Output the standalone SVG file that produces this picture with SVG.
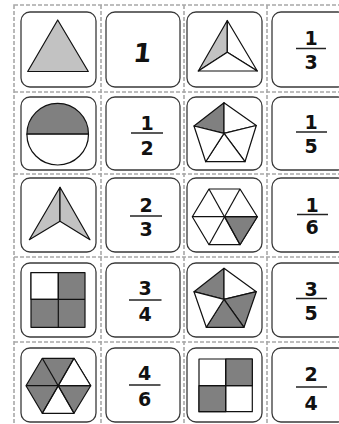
<svg xmlns="http://www.w3.org/2000/svg" width="339" height="424" viewBox="0 0 339 424">
<style>
.cut{fill:none;stroke:#a8a8a8;stroke-width:1.6;stroke-dasharray:4 2}
.card{fill:#fff;stroke:#3a3a3a;stroke-width:1.3}
.sh{stroke:#111;stroke-width:1.2;stroke-linejoin:round}
.lt{fill:#c2c2c2}
.dk{fill:#808080}
.wh{fill:#fff}
.num{font-family:"DejaVu Sans","Liberation Sans",sans-serif;font-weight:bold;font-size:19px;text-anchor:middle;fill:#111}
.big{font-size:26px}
.bar{stroke:#222;stroke-width:1.5}
</style>
<rect width="339" height="424" fill="#fff"/>
<g id="cutlines">
<rect class="cut" x="14" y="5" width="340" height="430"/>
<line class="cut" x1="101" y1="5" x2="101" y2="424"/>
<line class="cut" x1="184" y1="5" x2="184" y2="424"/>
<line class="cut" x1="267" y1="5" x2="267" y2="424"/>
<line class="cut" x1="14" y1="92" x2="339" y2="92"/>
<line class="cut" x1="14" y1="174" x2="339" y2="174"/>
<line class="cut" x1="14" y1="257" x2="339" y2="257"/>
<line class="cut" x1="14" y1="342" x2="339" y2="342"/>
</g>
<g id="r1c1">
<rect class="card" x="21" y="12" width="75" height="75" rx="9"/>
<polygon class="sh lt" points="57.7,20 27.7,71.5 88.3,71.5"/>
</g>
<g id="r1c2">
<rect class="card" x="106" y="12" width="74" height="75" rx="9"/>
<text class="num big" x="142" y="62" transform="skewX(-6) translate(6,0)">1</text>
</g>
<g id="r1c3">
<rect class="card" x="187" y="12" width="75" height="75" rx="9"/>
<polygon class="sh lt" points="227.3,20.5 227.3,52.3 198.3,71"/>
<polygon class="sh wh" points="227.3,20.5 257.3,71 227.3,52.3"/>
<polygon class="sh wh" points="227.3,52.3 257.3,71 198.3,71"/>
</g>
<g id="r1c4">
<rect class="card" x="272" y="12" width="75" height="75" rx="9"/>
<text class="num" x="311" y="45">1</text>
<line class="bar" x1="296" y1="48.5" x2="326" y2="48.5"/>
<text class="num" x="311" y="69">3</text>
</g>
<g id="r2c1">
<rect class="card" x="21" y="97" width="75" height="73" rx="9"/>
<path class="sh dk" d="M26.9,134.2 A30.8,30.8 0 0 1 88.5,134.2 Z"/>
<path class="sh wh" d="M26.9,134.2 A30.8,30.8 0 0 0 88.5,134.2 Z"/>
</g>
<g id="r2c2">
<rect class="card" x="106" y="97" width="74" height="73" rx="9"/>
<text class="num" x="147" y="130">1</text>
<line class="bar" x1="131" y1="133" x2="163" y2="133"/>
<text class="num" x="147" y="155">2</text>
</g>
<g id="r2c3">
<rect class="card" x="187" y="97" width="75" height="73" rx="9"/>
<polygon class="sh dk" points="224,102.7 194,126 224,133.3"/>
<polygon class="sh wh" points="224,102.7 256.3,125.5 224,133.3"/>
<polygon class="sh wh" points="256.3,125.5 245,161.7 224,133.3"/>
<polygon class="sh wh" points="245,161.7 205.7,161.7 224,133.3"/>
<polygon class="sh wh" points="205.7,161.7 194,126 224,133.3"/>
</g>
<g id="r2c4">
<rect class="card" x="272" y="97" width="75" height="73" rx="9"/>
<text class="num" x="311" y="129">1</text>
<line class="bar" x1="296" y1="132" x2="327" y2="132"/>
<text class="num" x="311" y="153">5</text>
</g>
<g id="r3c1">
<rect class="card" x="21" y="178" width="75" height="74" rx="9"/>
<polygon class="sh lt" points="60,187.3 60,221.3 29.3,239.7"/>
<polygon class="sh lt" points="60,187.3 90,239.7 60,221.3"/>
</g>
<g id="r3c2">
<rect class="card" x="106" y="178" width="74" height="74" rx="9"/>
<text class="num" x="146" y="212">2</text>
<line class="bar" x1="130" y1="216" x2="162" y2="216"/>
<text class="num" x="146" y="236">3</text>
</g>
<g id="r3c3">
<rect class="card" x="187" y="178" width="75" height="74" rx="9"/>
<polygon class="sh wh" points="209,189 240,189 257.3,216.7 240,244.7 209,244.7 192.3,216.7"/>
<polygon class="sh dk" points="224.7,216.7 257.3,216.7 240,244.7"/>
<line class="sh" x1="209" y1="189" x2="240" y2="244.7"/>
<line class="sh" x1="240" y1="189" x2="209" y2="244.7"/>
<line class="sh" x1="192.3" y1="216.7" x2="257.3" y2="216.7"/>
</g>
<g id="r3c4">
<rect class="card" x="272" y="178" width="75" height="74" rx="9"/>
<text class="num" x="312" y="212">1</text>
<line class="bar" x1="297" y1="214.5" x2="328" y2="214.5"/>
<text class="num" x="312" y="234">6</text>
</g>
<g id="r4c1">
<rect class="card" x="21" y="263" width="75" height="74" rx="9"/>
<rect class="sh dk" x="31" y="272.7" width="54" height="54.6"/>
<rect class="sh wh" x="31" y="272.7" width="27.3" height="26.6"/>
<line class="sh" x1="58.3" y1="272.7" x2="58.3" y2="327.3"/>
<line class="sh" x1="31" y1="299.3" x2="85" y2="299.3"/>
</g>
<g id="r4c2">
<rect class="card" x="106" y="263" width="74" height="74" rx="9"/>
<text class="num" x="145" y="295">3</text>
<line class="bar" x1="129" y1="300" x2="161.5" y2="300"/>
<text class="num" x="145" y="321">4</text>
</g>
<g id="r4c3">
<rect class="card" x="187" y="263" width="75" height="74" rx="9"/>
<polygon class="sh dk" points="224,268.3 194,291.7 224,299.3"/>
<polygon class="sh wh" points="224,268.3 256.3,291.7 224,299.3"/>
<polygon class="sh dk" points="256.3,291.7 244,327.3 224,299.3"/>
<polygon class="sh dk" points="244,327.3 206.3,327.3 224,299.3"/>
<polygon class="sh wh" points="206.3,327.3 194,291.7 224,299.3"/>
</g>
<g id="r4c4">
<rect class="card" x="272" y="263" width="75" height="74" rx="9"/>
<text class="num" x="311" y="296">3</text>
<line class="bar" x1="296" y1="298.5" x2="327" y2="298.5"/>
<text class="num" x="311" y="320">5</text>
</g>
<g id="r5c1">
<rect class="card" x="21" y="348" width="75" height="74" rx="9"/>
<polygon class="sh dk" points="42.3,358.3 74,358.3 90.7,385.7 74,413.3 42.3,413.3 26,385.7"/>
<polygon class="sh wh" points="58.3,385.7 74,358.3 90.7,385.7"/>
<polygon class="sh wh" points="58.3,385.7 74,413.3 42.3,413.3"/>
<line class="sh" x1="42.3" y1="358.3" x2="74" y2="413.3"/>
<line class="sh" x1="74" y1="358.3" x2="42.3" y2="413.3"/>
<line class="sh" x1="26" y1="385.7" x2="90.7" y2="385.7"/>
</g>
<g id="r5c2">
<rect class="card" x="106" y="348" width="74" height="74" rx="9"/>
<text class="num" x="144.5" y="380">4</text>
<line class="bar" x1="129" y1="385" x2="160.5" y2="385"/>
<text class="num" x="144.5" y="406">6</text>
</g>
<g id="r5c3">
<rect class="card" x="187" y="348" width="75" height="74" rx="9"/>
<rect class="sh wh" x="199" y="359" width="53.3" height="52.7"/>
<rect class="sh dk" x="225.7" y="359" width="26.6" height="26.7"/>
<rect class="sh dk" x="199" y="385.7" width="26.7" height="26"/>
<line class="sh" x1="225.7" y1="359" x2="225.7" y2="411.7"/>
<line class="sh" x1="199" y1="385.7" x2="252.3" y2="385.7"/>
</g>
<g id="r5c4">
<rect class="card" x="272" y="348" width="75" height="74" rx="9"/>
<text class="num" x="311" y="381">2</text>
<line class="bar" x1="296" y1="387" x2="327" y2="387"/>
<text class="num" x="311" y="410">4</text>
</g>
</svg>
